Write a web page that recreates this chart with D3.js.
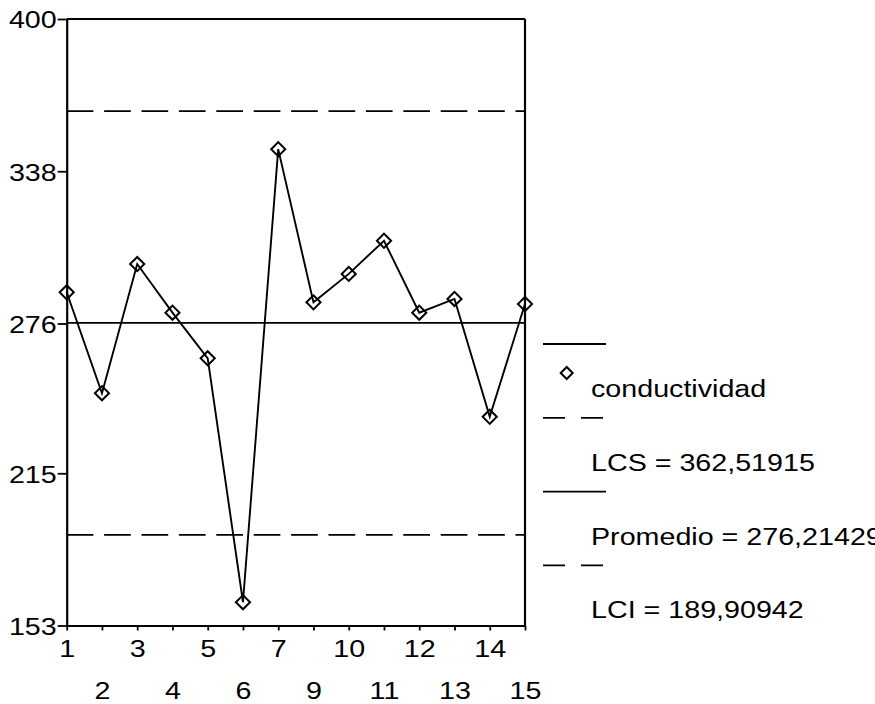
<!DOCTYPE html>
<html>
<head>
<meta charset="utf-8">
<script src="https://cdn.jsdelivr.net/npm/d3@7"></script>
<style>
  html, body { margin: 0; padding: 0; background: #fff; }
  svg { display: block; }
  text { font-family: "Liberation Sans", Arial, sans-serif; fill: #000; }
</style>
</head>
<body>
<svg id="chart" width="875" height="704"></svg>
<script>
// ---- data ----
const categories = ["1","2","3","4","5","6","7","9","10","11","12","13","14","15"];
const conductividad = [288.7, 247.6, 300.2, 280.4, 261.8, 162.5, 347.0, 284.6, 296.2, 309.7, 280.4, 286.0, 238.0, 283.9];
const LCS = 362.51915;
const promedio = 276.21429;
const LCI = 189.90942;
const yTickValues = [153, 215, 276, 338, 400];
const legendLabels = ["conductividad", "LCS = 362,51915", "Promedio = 276,21429", "LCI = 189,90942"];

// ---- layout ----
const svg = d3.select("#chart");
const pLeft = 66.7, pRight = 525, pTop = 19, pBottom = 625.5;
const SX = 1.17, FS = 24.5;

const x = d3.scalePoint().domain(categories).range([pLeft, pRight]).padding(0);
const y = d3.scaleLinear().domain([153, 400]).range([pBottom, pTop]);

// frame top & right
svg.append("line").attr("x1", pLeft).attr("x2", pRight).attr("y1", pTop).attr("y2", pTop)
  .attr("stroke", "#000").attr("stroke-width", 2.2);
svg.append("line").attr("x1", pRight).attr("x2", pRight).attr("y1", pTop).attr("y2", pBottom)
  .attr("stroke", "#000").attr("stroke-width", 2.2);

// control lines
const ctrl = [
  {v: LCS, dash: "26.7,10.7"},
  {v: promedio, dash: null},
  {v: LCI, dash: "26.7,10.7"}
];
svg.selectAll("line.ctrl").data(ctrl).enter().append("line")
  .attr("class", "ctrl")
  .attr("x1", pLeft).attr("x2", pRight)
  .attr("y1", d => y(d.v)).attr("y2", d => y(d.v))
  .attr("stroke", "#000").attr("stroke-width", 1.8)
  .attr("stroke-dasharray", d => d.dash);

// left axis
const yAxis = svg.append("g").attr("transform", `translate(${pLeft},0)`)
  .call(d3.axisLeft(y).tickValues(yTickValues).tickFormat(d3.format("d")).tickSize(9).tickSizeOuter(0));
yAxis.select(".domain").attr("stroke-width", 2.2);
yAxis.selectAll(".tick line").attr("stroke-width", 1.8);
yAxis.selectAll(".tick text")
  .attr("x", -10 / SX).attr("dy", "0.36em")
  .attr("transform", `scale(${SX},1)`)
  .style("font-size", FS + "px").style("font-family", "Liberation Sans, Arial, sans-serif");

// bottom axis
const xAxis = svg.append("g").attr("transform", `translate(0,${pBottom})`)
  .call(d3.axisBottom(x).tickSize(5).tickSizeOuter(0));
xAxis.select(".domain").attr("stroke-width", 2.2);
xAxis.selectAll(".tick line").attr("stroke-width", 1.8);
xAxis.selectAll(".tick text")
  .attr("dy", 0)
  .attr("y", (d, i) => i % 2 === 0 ? 32 : 73.5)
  .attr("transform", `scale(${SX},1)`)
  .style("font-size", FS + "px").style("font-family", "Liberation Sans, Arial, sans-serif");

// data line
const line = d3.line().x((d, i) => x(categories[i])).y(d => y(d));
svg.append("path").datum(conductividad)
  .attr("d", line).attr("fill", "none").attr("stroke", "#000").attr("stroke-width", 1.9);

// diamonds
const diamond = d3.symbol().type(d3.symbolSquare).size(100);
svg.selectAll("path.pt").data(conductividad).enter().append("path")
  .attr("class", "pt")
  .attr("d", diamond)
  .attr("transform", (d, i) => `translate(${x(categories[i])},${y(d)}) rotate(45)`)
  .attr("fill", "none").attr("stroke", "#000").attr("stroke-width", 2);

// legend
const lgX1 = 543, lgX2 = 606, lgY0 = 344, lgStep = 73.8, txtX = 591;
const lg = svg.append("g");
const lgItems = [
  {dash: null, label: legendLabels[0], marker: true},
  {dash: "22,16", label: legendLabels[1]},
  {dash: null, label: legendLabels[2]},
  {dash: "22,16", label: legendLabels[3]}
];
lgItems.forEach((it, i) => {
  const ly = lgY0 + i * lgStep;
  lg.append("line").attr("x1", lgX1).attr("x2", lgX2).attr("y1", ly).attr("y2", ly)
    .attr("stroke", "#000").attr("stroke-width", 1.8).attr("stroke-dasharray", it.dash);
  if (it.marker) {
    lg.append("path").attr("d", d3.symbol().type(d3.symbolSquare).size(72))
      .attr("transform", `translate(566.7,${ly + 29}) rotate(45)`)
      .attr("fill", "none").attr("stroke", "#000").attr("stroke-width", 2);
  }
  lg.append("text")
    .attr("transform", `translate(${txtX},${ly + 53}) scale(${SX},1)`)
    .style("font-size", FS + "px")
    .text(it.label);
});
</script>
</body>
</html>
